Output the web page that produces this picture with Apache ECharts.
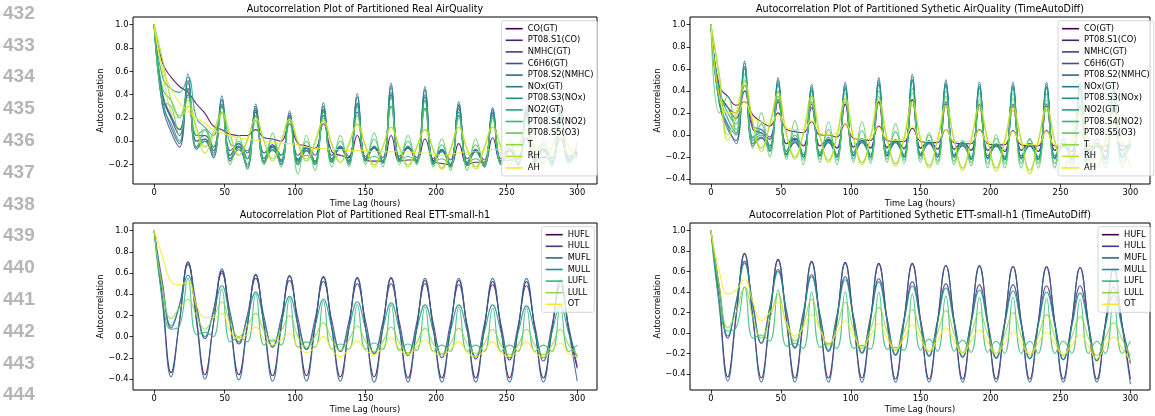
<!DOCTYPE html>
<html><head><meta charset="utf-8">
<script src="https://cdn.jsdelivr.net/npm/echarts@6/dist/echarts.min.js"></script>
<style>html,body{margin:0;padding:0;background:#fff}#c{width:1155px;height:416px}</style>
</head><body><div id="c"></div>
<script>
// ---------- data ----------
const lags = [0,6,12,18,24,30,36,42,48,54,60,66,72,78,84,90,96,102,108,114,120,126,132,138,144,150,156,162,168,174,180,186,192,198,204,210,216,222,228,234,240,246,252,258,264,270,276,282,288,294,300];
const xTicks = [0,50,100,150,200,250,300];
const yTicksAQReal = [-0.2,0,0.2,0.4,0.6,0.8,1.0];
const yTicks = [-0.4,-0.2,0,0.2,0.4,0.6,0.8,1.0];
const aqNames = ['CO(GT)','PT08.S1(CO)','NMHC(GT)','C6H6(GT)','PT08.S2(NMHC)','NOx(GT)','PT08.S3(NOx)','NO2(GT)','PT08.S4(NO2)','PT08.S5(O3)','T','RH','AH'];
const ettNames = ['HUFL','HULL','MUFL','MULL','LUFL','LULL','OT'];
const titles = ['Autocorrelation Plot of Partitioned Real AirQuality','Autocorrelation Plot of Partitioned Sythetic AirQuality (TimeAutoDiff)','Autocorrelation Plot of Partitioned Real ETT-small-h1','Autocorrelation Plot of Partitioned Sythetic ETT-small-h1 (TimeAutoDiff)'];
const lineNumbers = ['432','433','434','435','436','437','438','439','440','441','442','443','444'];

// Real AirQuality
const realAQ_CO = [1.0, 0.67,0.55,0.47,0.42, 0.32,0.24,0.13,0.1, 0.06,0.05,0.05,0.1, 0.03,0.02,0.0,0.15, -0.02,-0.04,-0.06,0.15, -0.09,-0.12,-0.14,0.05, -0.16,-0.17,-0.17,0.05, -0.17,-0.16,-0.16,0.02, -0.17,-0.19,-0.2,-0.02, -0.2,-0.18,-0.18,0.03, -0.17,-0.16,-0.15,0.03, -0.15,-0.14,-0.14,0.03, -0.13,-0.12];
const realAQ_S1 = [1.0, 0.38,0.2,0.05,0.45, 0.0,0.02,-0.08,0.32, -0.12,-0.04,-0.15,0.27, -0.15,-0.04,-0.16,0.22, -0.16,-0.06,-0.17,0.27, -0.15,-0.05,-0.17,0.32, -0.15,-0.05,-0.17,0.4, -0.15,-0.05,-0.17,0.38, -0.17,-0.07,-0.2,0.28, -0.18,-0.07,-0.2,0.24, -0.17,-0.06,-0.19,0.24, -0.16,-0.06,-0.18,0.24, -0.15,-0.09];
const realAQ_NMHC = [1.0, 0.4,0.22,0.1,0.4, 0.05,0.05,-0.05,0.3, -0.08,-0.02,-0.1,0.25, -0.1,-0.03,-0.12,0.2, -0.12,-0.05,-0.12,0.22, -0.12,-0.05,-0.13,0.25, -0.13,-0.05,-0.14,0.3, -0.13,-0.06,-0.14,0.28, -0.15,-0.08,-0.16,0.22, -0.15,-0.08,-0.16,0.2, -0.15,-0.08,-0.15,0.2, -0.14,-0.07,-0.15,0.2, -0.13,-0.1];
const realAQ_C6H6 = [1.0, 0.3,0.08,-0.05,0.52, -0.07,0.0,-0.14,0.36, -0.17,-0.07,-0.22,0.3, -0.19,-0.07,-0.2,0.24, -0.2,-0.08,-0.2,0.3, -0.18,-0.06,-0.2,0.38, -0.17,-0.06,-0.19,0.46, -0.17,-0.06,-0.19,0.44, -0.2,-0.09,-0.22,0.31, -0.21,-0.09,-0.22,0.27, -0.2,-0.08,-0.21,0.27, -0.19,-0.08,-0.21,0.27, -0.18,-0.11];
const realAQ_S2 = [1.0, 0.35,0.12,-0.02,0.58, -0.05,0.02,-0.12,0.39, -0.15,-0.05,-0.2,0.32, -0.17,-0.05,-0.18,0.26, -0.18,-0.06,-0.18,0.33, -0.17,-0.04,-0.18,0.41, -0.16,-0.04,-0.18,0.5, -0.16,-0.04,-0.18,0.47, -0.19,-0.07,-0.21,0.34, -0.2,-0.07,-0.21,0.29, -0.19,-0.06,-0.2,0.3, -0.18,-0.06,-0.2,0.3, -0.17,-0.1];
const realAQ_NOx = [1.0, 0.4,0.2,0.1,0.45, 0.0,0.05,-0.08,0.3, -0.12,-0.02,-0.15,0.25, -0.15,-0.03,-0.17,0.2, -0.17,-0.05,-0.18,0.26, -0.16,-0.04,-0.17,0.33, -0.16,-0.05,-0.17,0.42, -0.16,-0.05,-0.17,0.4, -0.18,-0.07,-0.2,0.3, -0.19,-0.07,-0.2,0.25, -0.18,-0.06,-0.19,0.25, -0.17,-0.06,-0.18,0.25, -0.16,-0.08];
const realAQ_S3 = [1.0, 0.3,0.15,0.0,0.5, -0.05,0.0,-0.1,0.35, -0.15,-0.05,-0.24,0.28, -0.18,-0.05,-0.2,0.22, -0.2,-0.08,-0.2,0.3, -0.18,-0.05,-0.18,0.38, -0.17,-0.05,-0.18,0.48, -0.17,-0.05,-0.18,0.45, -0.2,-0.08,-0.22,0.32, -0.2,-0.08,-0.22,0.27, -0.2,-0.07,-0.2,0.27, -0.18,-0.07,-0.2,0.27, -0.17,-0.1];
const realAQ_NO2 = [1.0, 0.55,0.45,0.42,0.55, 0.2,0.12,0.05,0.3, -0.02,-0.05,-0.08,0.22, -0.1,-0.08,-0.12,0.2, -0.15,-0.12,-0.17,0.25, -0.15,-0.12,-0.16,0.3, -0.16,-0.13,-0.17,0.38, -0.16,-0.13,-0.17,0.35, -0.18,-0.15,-0.2,0.25, -0.19,-0.15,-0.2,0.22, -0.18,-0.14,-0.18,0.22, -0.17,-0.13,-0.17,0.22, -0.16,-0.12];
const realAQ_S4 = [1.0, 0.45,0.35,0.2,0.45, 0.05,0.1,-0.05,0.3, -0.12,0.0,-0.15,0.22, -0.15,0.02,-0.16,0.2, -0.2,0.0,-0.18,0.25, -0.17,0.0,-0.18,0.3, -0.17,0.02,-0.18,0.38, -0.17,0.0,-0.18,0.35, -0.2,-0.03,-0.22,0.25, -0.2,-0.03,-0.2,0.22, -0.18,-0.02,-0.18,0.22, -0.18,-0.02,-0.17,0.22, -0.16,-0.05];
const realAQ_S5 = [1.0, 0.35,0.3,0.05,0.38, -0.05,0.1,-0.12,0.25, -0.2,0.05,-0.22,0.18, -0.2,0.07,-0.22,0.15, -0.28,0.05,-0.25,0.2, -0.22,0.05,-0.22,0.22, -0.2,0.07,-0.22,0.3, -0.2,0.05,-0.2,0.28, -0.22,0.02,-0.25,0.2, -0.25,0.02,-0.22,0.2, -0.2,0.02,-0.2,0.2, -0.2,0.02,-0.2,0.2, -0.2,0.0];
const realAQ_T = [1.0, 0.7,0.35,0.22,0.35, 0.12,-0.05,0.08,0.25, 0.05,-0.12,0.0,0.2, 0.0,-0.15,0.0,0.18, -0.02,-0.17,-0.02,0.17, -0.03,-0.18,-0.03,0.15, -0.04,-0.2,-0.05,0.12, -0.06,-0.22,-0.06,0.1, -0.07,-0.23,-0.07,0.12, -0.07,-0.22,-0.06,0.12, -0.05,-0.2,-0.05,0.1, -0.05,-0.18,-0.05,0.1, -0.05,-0.15];
const realAQ_RH = [1.0, 0.6,0.25,0.2,0.3, 0.1,-0.1,0.05,0.23, 0.05,-0.12,0.02,0.2, 0.0,-0.17,0.0,0.19, 0.0,-0.15,0.0,0.18, -0.02,-0.18,-0.02,0.14, -0.05,-0.22,-0.05,0.12, -0.05,-0.2,-0.05,0.1, -0.08,-0.24,-0.08,0.12, -0.07,-0.24,-0.06,0.12, -0.05,-0.2,-0.05,0.1, -0.05,-0.2,-0.05,0.1, -0.05,-0.15];
const realAQ_AH = [1.0, 0.62,0.45,0.33,0.26, 0.2,0.15,0.1,0.07, 0.05,0.03,0.02,0.01, 0.0,-0.01,-0.02,-0.02, -0.03,-0.05,-0.06,-0.06, -0.07,-0.07,-0.08,-0.08, -0.08,-0.09,-0.09,-0.09, -0.09,-0.09,-0.1,-0.1, -0.11,-0.12,-0.11,-0.1, -0.09,-0.09,-0.08,-0.07, -0.07,-0.07,-0.06,-0.06, -0.06,-0.06,-0.06,-0.06, -0.06,-0.06];

// Synthetic AirQuality
const synAQ_CO = [1.0, 0.44,0.35,0.27,0.3, 0.18,0.12,0.08,0.2, 0.05,0.03,0.02,0.12, 0.0,0.0,-0.02,0.1, -0.03,-0.04,-0.05,0.08, -0.05,-0.06,-0.06,0.06, -0.06,-0.07,-0.07,0.05, -0.07,-0.08,-0.08,0.05, -0.08,-0.09,-0.09,0.04, -0.09,-0.1,-0.1,0.04, -0.1,-0.1,-0.1,0.03, -0.1,-0.1,-0.1,0.03, -0.1,-0.1];
const synAQ_S1 = [1.0, 0.38,0.25,0.15,0.4, 0.05,0.02,-0.04,0.3, -0.08,-0.04,-0.1,0.25, -0.1,-0.05,-0.12,0.28, -0.11,-0.05,-0.12,0.3, -0.11,-0.05,-0.12,0.32, -0.12,-0.06,-0.13,0.28, -0.13,-0.07,-0.14,0.26, -0.14,-0.08,-0.15,0.26, -0.14,-0.08,-0.15,0.26, -0.14,-0.08,-0.15,0.25, -0.14,-0.08,-0.15,0.24, -0.14,-0.08];
const synAQ_NMHC = [1.0, 0.4,0.25,0.2,0.45, 0.08,0.05,-0.02,0.32, -0.08,-0.03,-0.1,0.28, -0.1,-0.04,-0.12,0.28, -0.11,-0.05,-0.12,0.3, -0.12,-0.05,-0.13,0.32, -0.12,-0.06,-0.13,0.3, -0.13,-0.07,-0.14,0.28, -0.14,-0.08,-0.15,0.28, -0.14,-0.08,-0.15,0.28, -0.14,-0.08,-0.15,0.27, -0.14,-0.08,-0.15,0.26, -0.14,-0.08];
const synAQ_C6H6 = [1.0, 0.28,0.08,-0.08,0.62, -0.1,-0.03,-0.15,0.48, -0.18,-0.07,-0.2,0.42, -0.19,-0.07,-0.2,0.44, -0.19,-0.07,-0.2,0.48, -0.19,-0.07,-0.2,0.5, -0.19,-0.08,-0.2,0.46, -0.2,-0.1,-0.22,0.44, -0.21,-0.1,-0.22,0.44, -0.21,-0.1,-0.22,0.44, -0.21,-0.1,-0.22,0.43, -0.21,-0.1,-0.22,0.42, -0.2,-0.1];
const synAQ_S2 = [1.0, 0.3,0.05,-0.05,0.67, -0.08,-0.02,-0.14,0.52, -0.18,-0.06,-0.2,0.46, -0.19,-0.06,-0.2,0.48, -0.19,-0.06,-0.2,0.52, -0.19,-0.06,-0.2,0.55, -0.19,-0.07,-0.2,0.5, -0.2,-0.09,-0.22,0.48, -0.21,-0.1,-0.22,0.48, -0.21,-0.1,-0.22,0.48, -0.21,-0.1,-0.22,0.47, -0.21,-0.1,-0.22,0.45, -0.2,-0.1];
const synAQ_NOx = [1.0, 0.35,0.15,0.02,0.6, -0.03,0.02,-0.1,0.46, -0.15,-0.03,-0.18,0.4, -0.16,-0.04,-0.18,0.42, -0.16,-0.04,-0.18,0.46, -0.16,-0.05,-0.18,0.5, -0.17,-0.05,-0.18,0.45, -0.18,-0.07,-0.2,0.43, -0.19,-0.08,-0.2,0.43, -0.19,-0.08,-0.2,0.43, -0.19,-0.08,-0.2,0.42, -0.19,-0.08,-0.2,0.4, -0.18,-0.09];
const synAQ_S3 = [1.0, 0.3,0.1,0.0,0.65, -0.05,0.0,-0.12,0.5, -0.17,-0.05,-0.2,0.44, -0.18,-0.05,-0.2,0.46, -0.18,-0.05,-0.2,0.5, -0.18,-0.05,-0.2,0.53, -0.18,-0.06,-0.2,0.48, -0.2,-0.08,-0.22,0.46, -0.21,-0.09,-0.22,0.46, -0.21,-0.09,-0.22,0.46, -0.21,-0.09,-0.22,0.45, -0.21,-0.09,-0.22,0.44, -0.2,-0.1];
const synAQ_NO2 = [1.0, 0.4,0.2,0.1,0.6, -0.02,0.05,-0.1,0.45, -0.15,0.0,-0.18,0.4, -0.18,-0.02,-0.2,0.42, -0.18,-0.03,-0.2,0.45, -0.18,-0.04,-0.2,0.48, -0.19,-0.05,-0.2,0.44, -0.2,-0.07,-0.22,0.42, -0.22,-0.08,-0.23,0.42, -0.22,-0.08,-0.23,0.42, -0.22,-0.08,-0.22,0.4, -0.22,-0.08,-0.22,0.4, -0.21,-0.08];
const synAQ_S4 = [1.0, 0.3,0.25,0.05,0.55, -0.08,0.1,-0.15,0.4, -0.2,0.05,-0.23,0.35, -0.22,0.05,-0.23,0.38, -0.22,0.04,-0.23,0.4, -0.22,0.03,-0.23,0.42, -0.22,0.0,-0.24,0.4, -0.24,-0.05,-0.25,0.38, -0.26,-0.03,-0.26,0.38, -0.26,-0.04,-0.26,0.37, -0.26,-0.04,-0.26,0.36, -0.26,-0.04,-0.26,0.35, -0.25,-0.05];
const synAQ_S5 = [1.0, 0.2,0.35,0.0,0.5, -0.12,0.2,-0.2,0.35, -0.22,0.13,-0.27,0.3, -0.25,0.12,-0.27,0.33, -0.25,0.12,-0.26,0.35, -0.25,0.1,-0.26,0.38, -0.25,0.02,-0.27,0.35, -0.27,-0.05,-0.28,0.32, -0.3,0.0,-0.3,0.33, -0.3,-0.03,-0.3,0.32, -0.3,-0.02,-0.3,0.3, -0.3,-0.03,-0.3,0.3, -0.3,0.0];
const synAQ_T = [1.0, 0.55,0.0,0.15,0.45, 0.1,-0.12,0.08,0.35, 0.0,-0.2,0.0,0.3, -0.02,-0.23,-0.02,0.3, -0.03,-0.25,-0.03,0.28, -0.04,-0.26,-0.04,0.27, -0.05,-0.28,-0.05,0.25, -0.05,-0.3,-0.05,0.24, -0.06,-0.3,-0.06,0.22, -0.06,-0.32,-0.06,0.22, -0.06,-0.3,-0.06,0.2, -0.06,-0.28,-0.06,0.2, -0.06,-0.28];
const synAQ_RH = [1.0, 0.5,-0.05,0.2,0.48, 0.12,-0.15,0.1,0.38, 0.02,-0.22,0.02,0.35, 0.0,-0.25,0.0,0.33, -0.02,-0.27,-0.02,0.32, -0.03,-0.28,-0.03,0.3, -0.04,-0.3,-0.04,0.27, -0.05,-0.32,-0.05,0.26, -0.05,-0.33,-0.05,0.25, -0.05,-0.35,-0.06,0.25, -0.06,-0.33,-0.06,0.22, -0.06,-0.3,-0.06,0.2, -0.06,-0.3];
const synAQ_AH = [1.0, 0.35,0.2,0.2,0.3, 0.15,0.12,0.1,0.18, 0.07,0.05,0.05,0.13, 0.02,0.0,0.02,0.1, -0.02,-0.04,-0.02,0.07, -0.04,-0.05,-0.04,0.08, -0.05,-0.06,-0.05,0.05, -0.06,-0.06,-0.06,0.04, -0.07,-0.08,-0.07,0.03, -0.08,-0.09,-0.08,0.03, -0.09,-0.09,-0.09,0.02, -0.09,-0.09,-0.09,0.02, -0.08,-0.08];

// Real ETT-small-h1
const realETT_HUFL = [1.0, 0.35,-0.34,0.15,0.7, 0.17,-0.36,0.12,0.62, 0.12,-0.36,0.1,0.58, 0.1,-0.37,0.1,0.57, 0.1,-0.37,0.1,0.56, 0.09,-0.38,0.08,0.55, 0.08,-0.38,0.08,0.55, 0.08,-0.39,0.07,0.53, 0.07,-0.39,0.07,0.53, 0.07,-0.39,0.07,0.52, 0.07,-0.39,0.06,0.52, 0.06,-0.39,0.06,0.52, 0.06,-0.3];
const realETT_HULL = [1.0, 0.5,0.08,0.3,0.68, 0.3,-0.02,0.25,0.6, 0.22,-0.07,0.2,0.55, 0.18,-0.1,0.17,0.53, 0.17,-0.12,0.16,0.52, 0.15,-0.14,0.14,0.5, 0.14,-0.16,0.13,0.5, 0.13,-0.18,0.12,0.5, 0.12,-0.2,0.12,0.49, 0.11,-0.21,0.11,0.49, 0.11,-0.22,0.1,0.48, 0.1,-0.23,0.1,0.48, 0.09,-0.28];
const realETT_MUFL = [1.0, 0.3,-0.38,0.15,0.71, 0.14,-0.4,0.12,0.64, 0.11,-0.41,0.09,0.59, 0.08,-0.42,0.08,0.58, 0.08,-0.42,0.08,0.57, 0.07,-0.42,0.07,0.56, 0.07,-0.43,0.06,0.56, 0.06,-0.43,0.06,0.55, 0.06,-0.43,0.06,0.55, 0.06,-0.43,0.06,0.55, 0.06,-0.43,0.06,0.55, 0.06,-0.43,0.05,0.54, 0.05,-0.42];
const realETT_MULL = [1.0, 0.45,0.1,0.3,0.58, 0.25,0.0,0.22,0.48, 0.18,-0.05,0.17,0.42, 0.14,-0.09,0.13,0.38, 0.11,-0.12,0.1,0.35, 0.09,-0.14,0.08,0.33, 0.07,-0.16,0.07,0.32, 0.06,-0.17,0.06,0.3, 0.05,-0.18,0.05,0.3, 0.05,-0.19,0.04,0.3, 0.04,-0.2,0.04,0.29, 0.04,-0.2,0.04,0.29, 0.03,-0.2];
const realETT_LUFL = [1.0, 0.35,0.07,0.1,0.55, 0.02,0.04,0.0,0.45, -0.05,-0.01,-0.05,0.4, -0.08,-0.03,-0.08,0.36, -0.1,-0.05,-0.1,0.33, -0.12,-0.07,-0.12,0.3, -0.12,-0.06,-0.12,0.3, -0.13,-0.07,-0.13,0.28, -0.14,-0.08,-0.14,0.28, -0.14,-0.08,-0.14,0.27, -0.14,-0.08,-0.14,0.27, -0.14,-0.08,-0.14,0.27, -0.14,-0.08];
const realETT_LULL = [1.0, 0.45,0.17,0.27,0.35, 0.2,0.07,0.18,0.33, 0.12,0.0,0.1,0.22, 0.05,-0.05,0.05,0.2, 0.0,-0.1,0.0,0.13, -0.03,-0.13,-0.03,0.1, -0.05,-0.14,-0.05,0.09, -0.06,-0.15,-0.06,0.08, -0.07,-0.16,-0.07,0.08, -0.07,-0.16,-0.07,0.07, -0.08,-0.17,-0.08,0.07, -0.08,-0.17,-0.08,0.07, -0.08,-0.17];
const realETT_OT = [1.0, 0.75,0.52,0.49,0.52, 0.3,0.18,0.18,0.22, 0.05,-0.02,0.02,0.09, -0.03,-0.08,-0.03,0.03, -0.1,-0.15,-0.1,0.0, -0.12,-0.19,-0.12,-0.04, -0.13,-0.17,-0.1,-0.01, -0.12,-0.17,-0.1,-0.03, -0.14,-0.18,-0.12,-0.05, -0.15,-0.19,-0.13,-0.05, -0.15,-0.19,-0.13,-0.05, -0.15,-0.19,-0.13,-0.06, -0.16,-0.19];

// Synthetic ETT-small-h1
const synETT_HUFL = [1.0, 0.3,-0.43,0.18,0.78, 0.15,-0.44,0.14,0.72, 0.13,-0.44,0.13,0.7, 0.12,-0.44,0.12,0.69, 0.12,-0.44,0.12,0.68, 0.12,-0.45,0.12,0.68, 0.11,-0.45,0.11,0.66, 0.11,-0.45,0.11,0.66, 0.1,-0.45,0.1,0.65, 0.1,-0.45,0.1,0.65, 0.1,-0.45,0.1,0.64, 0.09,-0.45,0.09,0.63, 0.09,-0.45];
const synETT_HULL = [1.0, 0.45,-0.05,0.3,0.7, 0.28,-0.1,0.25,0.62, 0.22,-0.14,0.2,0.57, 0.18,-0.17,0.17,0.55, 0.16,-0.19,0.15,0.53, 0.14,-0.21,0.13,0.5, 0.12,-0.22,0.12,0.48, 0.11,-0.23,0.11,0.47, 0.1,-0.24,0.1,0.47, 0.09,-0.25,0.09,0.46, 0.09,-0.26,0.09,0.46, 0.08,-0.27,0.08,0.45, 0.08,-0.3];
const synETT_MUFL = [1.0, 0.25,-0.47,0.15,0.77, 0.13,-0.48,0.12,0.71, 0.11,-0.48,0.11,0.69, 0.1,-0.48,0.1,0.68, 0.1,-0.48,0.1,0.67, 0.1,-0.48,0.1,0.67, 0.09,-0.48,0.09,0.66, 0.09,-0.48,0.09,0.65, 0.08,-0.48,0.08,0.65, 0.08,-0.48,0.08,0.64, 0.08,-0.48,0.08,0.64, 0.07,-0.48,0.07,0.63, 0.07,-0.5];
const synETT_MULL = [1.0, 0.4,-0.03,0.3,0.68, 0.25,-0.1,0.22,0.6, 0.2,-0.15,0.18,0.55, 0.16,-0.18,0.15,0.52, 0.14,-0.2,0.13,0.5, 0.12,-0.22,0.11,0.46, 0.1,-0.23,0.1,0.44, 0.09,-0.24,0.09,0.42, 0.08,-0.25,0.08,0.41, 0.07,-0.25,0.07,0.4, 0.07,-0.26,0.06,0.39, 0.06,-0.27,0.06,0.37, 0.05,-0.28];
const synETT_LUFL = [1.0, 0.3,0.02,0.05,0.45, -0.05,-0.02,-0.08,0.42, -0.13,-0.1,-0.15,0.4, -0.14,-0.1,-0.15,0.4, -0.15,-0.12,-0.16,0.4, -0.16,-0.14,-0.17,0.38, -0.17,-0.06,-0.18,0.36, -0.18,-0.07,-0.19,0.35, -0.19,-0.08,-0.2,0.35, -0.2,-0.08,-0.2,0.34, -0.2,-0.08,-0.2,0.33, -0.2,-0.08,-0.2,0.33, -0.2,-0.08];
const synETT_LULL = [1.0, 0.45,0.05,0.2,0.45, 0.15,-0.05,0.13,0.38, 0.08,-0.08,0.08,0.33, 0.05,-0.12,0.05,0.3, 0.03,-0.15,0.03,0.25, 0.01,-0.17,0.01,0.23, 0.0,-0.18,0.0,0.22, -0.01,-0.19,-0.01,0.2, -0.02,-0.2,-0.02,0.2, -0.03,-0.21,-0.03,0.18, -0.04,-0.22,-0.04,0.16, -0.05,-0.22,-0.05,0.1, -0.06,-0.22];
const synETT_OT = [1.0, 0.6,0.38,0.42,0.52, 0.3,0.12,0.2,0.3, 0.1,-0.03,0.05,0.18, 0.03,-0.1,0.0,0.12, -0.02,-0.14,-0.03,0.09, -0.05,-0.16,-0.05,0.08, -0.06,-0.18,-0.07,0.05, -0.08,-0.2,-0.08,0.03, -0.09,-0.2,-0.1,0.01, -0.1,-0.21,-0.1,0.01, -0.11,-0.21,-0.12,-0.02, -0.13,-0.25,-0.13,-0.04, -0.15,-0.27];

const realAQ = [realAQ_CO,realAQ_S1,realAQ_NMHC,realAQ_C6H6,realAQ_S2,realAQ_NOx,realAQ_S3,realAQ_NO2,realAQ_S4,realAQ_S5,realAQ_T,realAQ_RH,realAQ_AH];
const synAQ = [synAQ_CO,synAQ_S1,synAQ_NMHC,synAQ_C6H6,synAQ_S2,synAQ_NOx,synAQ_S3,synAQ_NO2,synAQ_S4,synAQ_S5,synAQ_T,synAQ_RH,synAQ_AH];
const realETT = [realETT_HUFL,realETT_HULL,realETT_MUFL,realETT_MULL,realETT_LUFL,realETT_LULL,realETT_OT];
const synETT = [synETT_HUFL,synETT_HULL,synETT_MUFL,synETT_MULL,synETT_LUFL,synETT_LULL,synETT_OT];

// ---------- styles ----------
const viridis13 = ['#440154','#482173','#433e85','#3b528b','#31688e','#287c8e','#21918c','#20a386','#35b779','#5ec962','#90d743','#c8e020','#fde725'];
const viridis7 = ['#440154','#443983','#31688e','#21918c','#35b779','#90d743','#fde725'];
const FONT = '"DejaVu Sans", sans-serif';
const FS = 8.3;

const panels = [
  {names: aqNames, data: realAQ, colors: viridis13, left:133, top:17, width:464, height:167, ymin:-0.366, ymax:1.066, yt: yTicksAQReal, leg:{left:501.7, top:20.7}},
  {names: aqNames, data: synAQ, colors: viridis13, left:690, top:17, width:460, height:167, ymin:-0.445, ymax:1.07, yt: yTicks, leg:{left:1058, top:20.7}},
  {names: ettNames, data: realETT, colors: viridis7, left:133, top:223, width:464, height:167, ymin:-0.504, ymax:1.073, yt: yTicks, leg:{left:541.7, top:226.7}},
  {names: ettNames, data: synETT, colors: viridis7, left:690, top:223, width:460, height:167, ymin:-0.557, ymax:1.075, yt: yTicks, leg:{left:1098, top:226.7}}
];

const fmt = v => (v < 0 ? '\u2212' : '') + Math.abs(v).toFixed(1);
const grid = [], xAxis = [], yAxis = [], series = [], legend = [], graphic = [];
const problems = [];
panels.forEach((p, k) => {
  grid.push({left:p.left, top:p.top, width:p.width, height:p.height, show:true, borderColor:'#000', borderWidth:1, backgroundColor:'transparent'});
  xAxis.push({type:'value', gridIndex:k, min:-15, max:314,
    axisLine:{show:false, onZero:false},
    axisTick:{show:true, customValues:xTicks, length:3.5, lineStyle:{color:'#000', width:0.8}},
    axisLabel:{customValues:xTicks, fontSize:FS, color:'#000', margin:5, fontFamily:FONT},
    splitLine:{show:false},
    name:'Time Lag (hours)', nameLocation:'middle', nameGap:15.5, nameTextStyle:{fontSize:FS, color:'#000', fontFamily:FONT}});
  yAxis.push({type:'value', gridIndex:k, min:p.ymin, max:p.ymax,
    axisLine:{show:false, onZero:false},
    axisTick:{show:true, customValues:p.yt, length:3.5, lineStyle:{color:'#000', width:0.8}},
    axisLabel:{customValues:p.yt, formatter:fmt, fontSize:FS, color:'#000', margin:4.5, fontFamily:FONT},
    splitLine:{show:false},
    name:'Autocorrelation', nameLocation:'middle', nameGap:27, nameTextStyle:{fontSize:FS, color:'#000', fontFamily:FONT}});
  p.names.forEach((nm, i) => {
    const vals = p.data[i];
    if (vals.length !== lags.length) problems.push(k + ':' + nm + ' len ' + vals.length);
    series.push({type:'line', name:nm, xAxisIndex:k, yAxisIndex:k,
      data: lags.map((l, j) => [l, vals[j]]),
      symbol:'none', showSymbol:false, smooth:0.45, silent:true, animation:false,
      lineStyle:{width:1.1, color:p.colors[i], opacity:0.85}, itemStyle:{color:p.colors[i]}});
  });
  legend.push({data:p.names, orient:'vertical', left:p.leg.left, top:p.leg.top,
    padding:[3,4,3,4], itemWidth:17, itemHeight:1.6, icon:'rect', itemGap:1.6,
    textStyle:{fontSize:FS, lineHeight:10, color:'#000', fontFamily:FONT},
    borderColor:'#cccccc', borderWidth:0.8, borderRadius:2, backgroundColor:'rgba(255,255,255,0.8)',
    selectedMode:false});
  graphic.push({type:'text', x:p.left + p.width/2, y:p.top - 8,
    style:{text:titles[k], font:'9.6px ' + FONT, fill:'#000', align:'center', verticalAlign:'middle'}});
});
lineNumbers.forEach((t, i) => {
  graphic.push({type:'text', x:3, y:13.5 + 31.8*i,
    style:{text:t, font:'bold 19px "Liberation Sans", Arial, sans-serif', fill:'#b5b5b5', align:'left', verticalAlign:'middle'}});
});
if (problems.length) graphic.push({type:'text', x:300, y:200, style:{text:problems.join('\n'), fill:'red', font:'12px sans-serif'}});

const chart = echarts.init(document.getElementById('c'), null, {renderer:'canvas'});
chart.setOption({animation:false, grid, xAxis, yAxis, series, legend, graphic});
</script>
</body></html>
